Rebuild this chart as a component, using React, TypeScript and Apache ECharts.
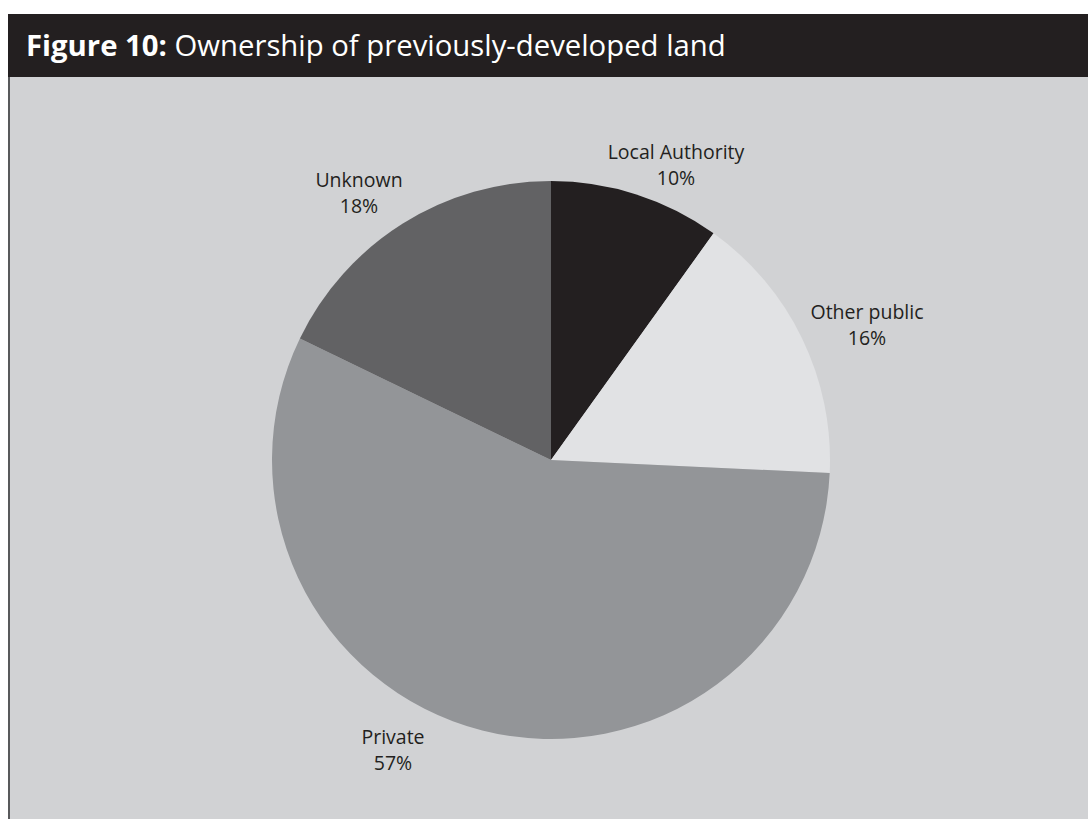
import React, { useEffect, useRef } from "react";
import * as echarts from "echarts";

const categories = ["Local Authority", "Other public", "Private", "Unknown"];
const shares = [10, 16, 57, 18];
const sliceColors = ["#231f20", "#e1e2e4", "#939598", "#626264"];
const titleBold = "Figure 10:";
const titleRest = " Ownership of previously-developed land";

// label offsets from pie centre (layout only)
const labelOffsets: [number, number][] = [
  [125, -296],
  [316, -136],
  [-158, 289],
  [-192, -268],
];

const W = 1088;
const H = 819;
const CX = 551;
const CY = 460;
const R = 279;

export default function App() {
  const ref = useRef<HTMLDivElement>(null);
  useEffect(() => {
    if (!ref.current) return;
    const chart = echarts.init(ref.current, undefined, { renderer: "svg" });
    const font = "'Open Sans', 'Noto Sans', sans-serif";
    chart.setOption({
      animation: false,
      backgroundColor: "#ffffff",
      graphic: [
        { type: "rect", z: 0, shape: { x: 8, y: 14, width: W - 8, height: 63 }, style: { fill: "#231f20" } },
        { type: "rect", z: 0, shape: { x: 8, y: 77, width: W - 8, height: H - 77 }, style: { fill: "#d1d2d4" } },
        { type: "line", z: 1, shape: { x1: 9, y1: 77, x2: 9, y2: H }, style: { stroke: "#58595b", lineWidth: 2 } },
        {
          type: "text",
          z: 2,
          x: 26,
          y: 45,
          style: {
            text: `{b|${titleBold}}{r|${titleRest}}`,
            fill: "#ffffff",
            verticalAlign: "middle",
            rich: {
              b: { fontFamily: font, fontWeight: "bold", fontSize: 29.3, fill: "#ffffff" },
              r: { fontFamily: font, fontWeight: "normal", fontSize: 29.3, fill: "#ffffff" },
            },
          },
        },
      ],
      series: [
        {
          type: "pie",
          z: 3,
          center: [CX, CY],
          radius: [0, R],
          startAngle: 90,
          clockwise: true,
          silent: true,
          data: categories.map((name, i) => ({
            name,
            value: shares[i],
            itemStyle: { color: sliceColors[i] },
          })),
          label: {
            show: true,
            position: "outside",
            formatter: (p: any) => `${p.name}\n${shares[p.dataIndex]}%`,
            fontFamily: font,
            fontSize: 19.5,
            lineHeight: 26,
            color: "#231f20",
            align: "center",
          },
          labelLine: { show: false },
          labelLayout: (params: any) => {
            const o = labelOffsets[params.dataIndex];
            return {
              x: CX + o[0],
              y: CY + o[1],
              align: "center",
              verticalAlign: "middle",
            };
          },
        },
      ],
    });
    return () => chart.dispose();
  }, []);
  return (
    <div
      ref={ref}
      style={{ position: "fixed", left: 0, top: 0, width: W, height: H }}
    />
  );
}
